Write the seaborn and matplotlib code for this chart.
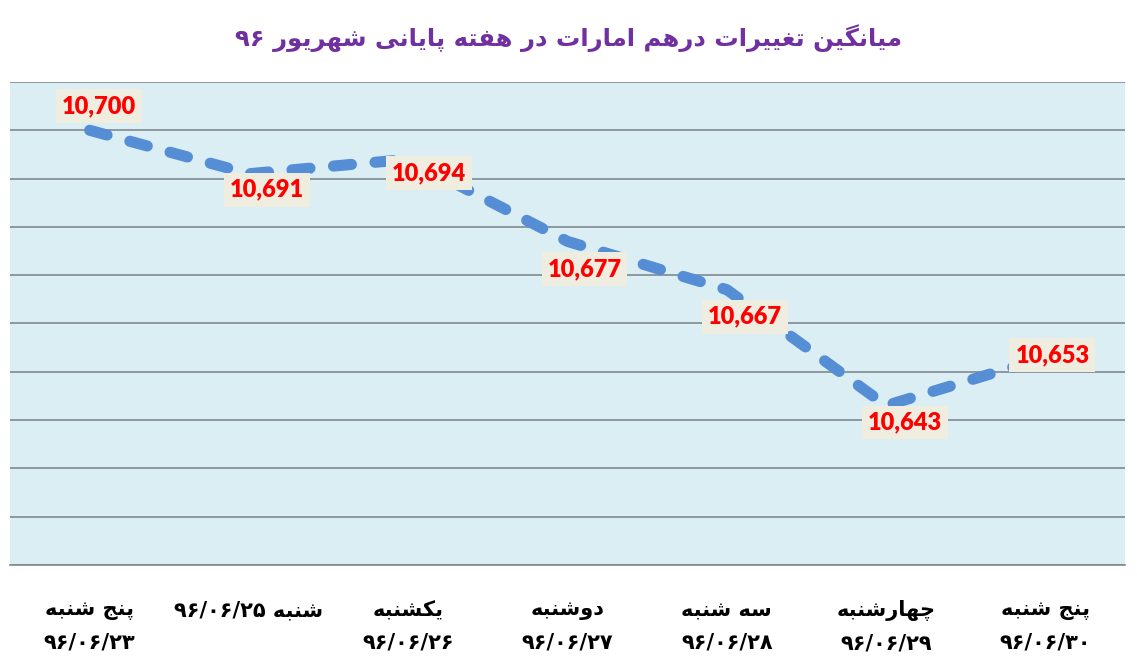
import numpy as np
import pandas as pd
import seaborn as sns
import matplotlib.pyplot as plt

# data
title = "میانگین تغییرات درهم امارات در هفته پایانی شهریور ۹۶"
days = ["پنج شنبه", "شنبه", "یکشنبه", "دوشنبه", "سه شنبه", "چهارشنبه", "پنج شنبه"]
dates = ["۹۶/۰۶/۲۳", "۹۶/۰۶/۲۵", "۹۶/۰۶/۲۶", "۹۶/۰۶/۲۷", "۹۶/۰۶/۲۸", "۹۶/۰۶/۲۹", "۹۶/۰۶/۳۰"]
rates = [10700, 10691, 10694, 10677, 10667, 10643, 10653]

# label offsets in pixels (dx, dy)
label_offsets = [(9, 24), (18, -16), (21, -14), (17, -28), (18, -27), (19, -17), (7, 2)]

# minimal arabic/persian shaping (matplotlib has no complex text layout)
# char: (isolated, final, initial, medial)
forms = {
    "ا": (0xFE8D, 0xFE8E, None, None),
    "ب": (0xFE8F, 0xFE90, 0xFE91, 0xFE92),
    "پ": (0xFB56, 0xFB57, 0xFB58, 0xFB59),
    "ت": (0xFE95, 0xFE96, 0xFE97, 0xFE98),
    "ج": (0xFE9D, 0xFE9E, 0xFE9F, 0xFEA0),
    "چ": (0xFB7A, 0xFB7B, 0xFB7C, 0xFB7D),
    "د": (0xFEA9, 0xFEAA, None, None),
    "ر": (0xFEAD, 0xFEAE, None, None),
    "و": (0xFEED, 0xFEEE, None, None),
    "س": (0xFEB1, 0xFEB2, 0xFEB3, 0xFEB4),
    "ش": (0xFEB5, 0xFEB6, 0xFEB7, 0xFEB8),
    "غ": (0xFECD, 0xFECE, 0xFECF, 0xFED0),
    "ف": (0xFED1, 0xFED2, 0xFED3, 0xFED4),
    "ک": (0xFB8E, 0xFB8F, 0xFB90, 0xFB91),
    "گ": (0xFB92, 0xFB93, 0xFB94, 0xFB95),
    "م": (0xFEE1, 0xFEE2, 0xFEE3, 0xFEE4),
    "ن": (0xFEE5, 0xFEE6, 0xFEE7, 0xFEE8),
    "ه": (0xFEE9, 0xFEEA, 0xFEEB, 0xFEEC),
    "ی": (0xFBFC, 0xFBFD, 0xFBFE, 0xFBFF),
}


def shape(s):
    out = []
    for i, c in enumerate(s):
        if c not in forms:
            out.append(c)
            continue
        prev = s[i - 1] if i > 0 else ""
        nxt = s[i + 1] if i + 1 < len(s) else ""
        jp = prev in forms and forms[prev][2] is not None
        jn = nxt in forms and forms[c][2] is not None
        f = forms[c]
        if jp and jn:
            out.append(chr(f[3]))
        elif jp:
            out.append(chr(f[1]))
        elif jn:
            out.append(chr(f[2]))
        else:
            out.append(chr(f[0]))
    return "".join(out)


def ltr_char(c):
    return c.isdigit() or c in "/,."


def rtl(s):
    s = shape(s)
    runs = []
    for c in s:
        t = ltr_char(c)
        if runs and runs[-1][0] == t:
            runs[-1][1].append(c)
        else:
            runs.append([t, [c]])
    out = ""
    for t, chars in reversed(runs):
        out += "".join(chars) if t else "".join(reversed(chars))
    return out


df = pd.DataFrame({"pos": np.arange(len(rates)), "rate": rates})

plt.rcParams["lines.scale_dashes"] = False
fig = plt.figure(figsize=(11.37, 6.66), dpi=100)
ax = fig.add_axes([0.0088, 0.1517, 0.9807, 0.7252])
ax.set_facecolor("#DAEEF3")

sns.lineplot(data=df, x="pos", y="rate", ax=ax, color="#558ED5", linewidth=8,
             dashes=False, linestyle=(0, (13, 17)), dash_capstyle="round", zorder=3)

ax.set_ylim(10610, 10710)
ax.set_xlim(-0.5, len(rates) - 0.5)
ax.set_yticks(np.arange(10610, 10711, 10))
ax.yaxis.grid(True, color="#7F8890", linewidth=1.2)
ax.set_axisbelow(True)
ax.tick_params(axis="y", left=False, labelleft=False)
ax.tick_params(axis="x", bottom=False, pad=22)
for sp in ["left", "right", "top"]:
    ax.spines[sp].set_visible(False)
ax.spines["bottom"].set_color("#7F8890")
ax.spines["bottom"].set_linewidth(1.2)
ax.set_xlabel("")
ax.set_ylabel("")

xlabels = []
for d, dt in zip(days, dates):
    if d == "شنبه":
        xlabels.append(rtl(d + " " + dt))
    else:
        xlabels.append(rtl(d) + "\n" + rtl(dt))
ax.set_xticks(df["pos"])
ax.set_xticklabels(xlabels, fontsize=15, fontweight="bold", color="black",
                   family=["DejaVu Sans"], linespacing=1.75, va="top")

for i, v in enumerate(rates):
    ax.annotate(f"{v:,}", (i, v), xytext=label_offsets[i], textcoords="offset pixels",
                ha="center", va="center", fontsize=17, fontweight="heavy", color="#FF0000",
                family=["Lato", "DejaVu Sans"], zorder=5,
                bbox=dict(boxstyle="square,pad=0.25", facecolor="#EEEDDF", edgecolor="none"))

fig.text(0.5, 0.943, rtl(title), ha="center", va="center", fontsize=17.5,
         fontweight="bold", color="#7030A0", family=["DejaVu Sans"])

fig.savefig("out.png", dpi=100)
